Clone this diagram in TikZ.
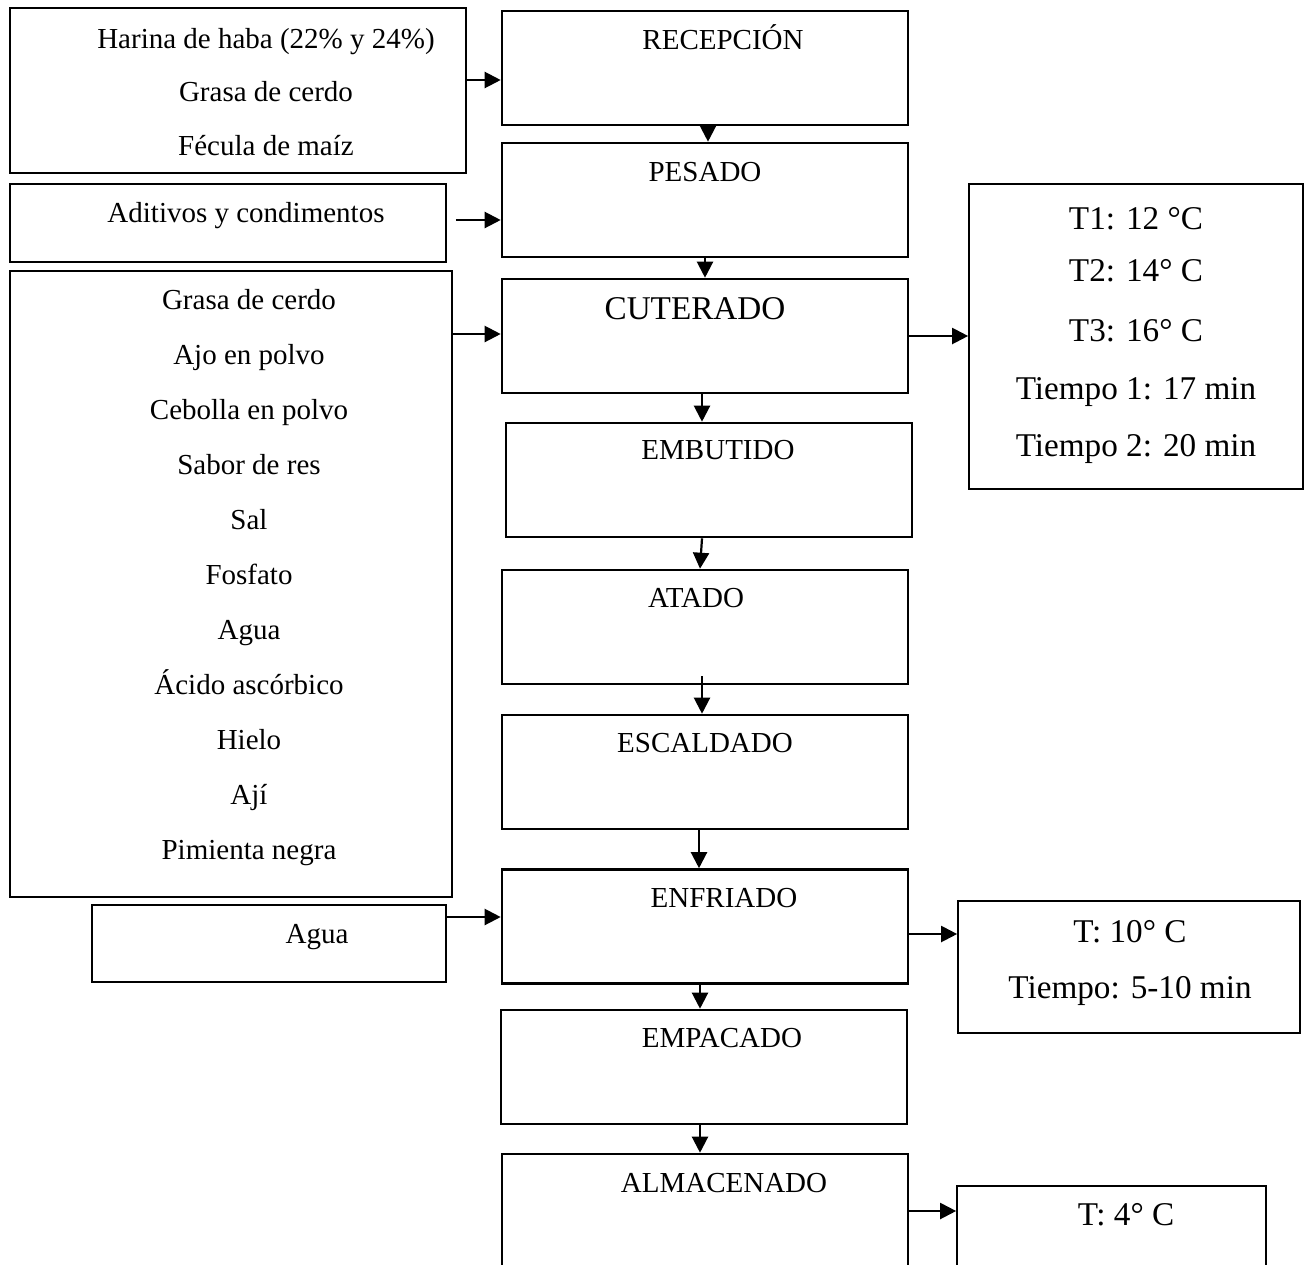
\documentclass[tikz,border=0pt]{standalone}
\usepackage{fontspec}
\setmainfont{Liberation Serif}
\usetikzlibrary{arrows.meta,positioning}

\tikzset{
  paso/.style={draw, line width=1.3pt, minimum width=203pt, minimum height=57pt, inner sep=0pt},
  caja/.style={draw, line width=0.85pt, inner sep=0pt},
  flecha/.style={line width=1.1pt, -{Triangle[length=8pt,width=8pt]}},
  txt/.style={font=\fontsize{14.5}{17}\selectfont, anchor=base, inner sep=0pt},
  txtg/.style={font=\fontsize{16.6}{20}\selectfont, anchor=base, inner sep=0pt}
}

\begin{document}
\begin{tikzpicture}[x=0.5pt, y=-0.5pt]
  \useasboundingbox (0,0) rectangle (1306,1264);
  \clip (0,0) rectangle (1306,1264);

  % Etapas del proceso
  \node[paso] (recep) at (705,68) {};
  \node[paso] (pesado) at (705,200) {};
  \node[paso] (cuter) at (705,336) {};
  \node[paso] (embut) at (709,480) {};
  \node[paso] (atado) at (705,627) {};
  \node[paso] (escal) at (705,772) {};
  \node[paso] (enfri) at (705,926.5) {};
  \node[paso] (empac) at (704,1067) {};
  \node[paso] (almac) at (705,1211) {};

  \foreach \n/\t/\dx/\dy in {recep/RECEPCIÓN/9/20, pesado/PESADO/0/20,
      embut/EMBUTIDO/4.5/19, atado/ATADO/-4.5/19.5, escal/ESCALDADO/0/19.5,
      enfri/ENFRIADO/9.5/19.5, empac/EMPACADO/9/19.5, almac/ALMACENADO/9.5/20} {
    \node[txt] (\n-t) at ([xshift=\dx pt, yshift=-\dy pt]\n.north) {\t};
  }
  \node[txtg] (cuter-t) at ([xshift=-5pt, yshift=-21pt]cuter.north) {CUTERADO};

  % Entradas
  \node[caja, minimum width=228pt, minimum height=82.5pt] (harina) at (238,90.5) {};
  \node[txt] (harina-1) at (266,48) {Harina de haba (22\% y 24\%)};
  \node[txt] (harina-2) at (266,101) {Grasa de cerdo};
  \node[txt] (harina-3) at (266,155) {Fécula de maíz};

  \node[caja, minimum width=218pt, minimum height=39pt] (aditivos) at (228,223) {};
  \node[txt] (aditivos-t) at (246,222) {Aditivos y condimentos};

  \node[caja, minimum width=221pt, minimum height=313pt] (ingred) at (231,584) {};
  \foreach \t [count=\i] in {Grasa de cerdo, Ajo en polvo, Cebolla en polvo,
      Sabor de res, Sal, Fosfato, Agua, Ácido ascórbico, Hielo, Ají, Pimienta negra} {
    \node[txt] (ingred-\i) at (249,{309+55*(\i-1)}) {\t};
  }

  \node[caja, minimum width=177pt, minimum height=38.5pt] (agua) at (269,943.5) {};
  \node[txt] (agua-t) at (317,943) {Agua};

  % Condiciones
  \node[caja, minimum width=167pt, minimum height=152.5pt] (tcut) at (1136,336.5) {};
  \foreach \t/\y [count=\i] in {T1: 12 °C/229, T2: 14° C/281, T3: 16° C/341,
      Tiempo 1: 17 min/399, Tiempo 2: 20 min/456} {
    \node[txtg] (tcut-\i) at (1136,\y) {\t};
  }

  \node[caja, minimum width=171pt, minimum height=66pt] (tenf) at (1129,967) {};
  \node[txtg] (tenf-1) at (1130,942) {T: 10° C};
  \node[txtg] (tenf-2) at (1130,998) {Tiempo: 5-10 min};

  \node[caja, minimum width=154.5pt, minimum height=47pt] (talm) at (1111.5,1233) {};
  \node[txtg] (talm-1) at (1126,1225) {T: 4° C};

  % Flechas de entrada
  \coordinate (e1) at ([yshift=-6pt]recep.west);
  \draw[flecha] (harina.east |- e1) -- (e1);
  \coordinate (s2) at ([xshift=4.5pt]aditivos.east);
  \coordinate (e2) at ([yshift=-10pt]pesado.west);
  \draw[flecha] (s2 |- e2) -- (e2);
  \coordinate (e3) at ([yshift=1pt]cuter.west);
  \draw[flecha] (ingred.east |- e3) -- (e3);
  \coordinate (e4) at ([yshift=4.75pt]enfri.west);
  \draw[flecha] (agua.east |- e4) -- (e4);

  % Flechas de salida
  \draw[flecha] (cuter.east) -- (tcut.west |- cuter.east);
  \coordinate (e5) at ([yshift=-3.75pt]enfri.east);
  \draw[flecha] (e5) -- (tenf.west |- e5);
  \draw[flecha] (almac.east) -- (talm.west |- almac.east);

  % Flujo principal
  \draw[flecha] ([xshift=1.5pt]recep.south) -- ([xshift=1.5pt]pesado.north);
  \draw[flecha] (pesado.south) -- (cuter.north);
  \draw[flecha] ([xshift=-1.5pt]cuter.south) -- ([xshift=-3.5pt]embut.north);
  \draw[flecha] ([xshift=-3.5pt]embut.south) -- ([xshift=-2.5pt]atado.north);
  \draw[flecha] ([xshift=-1.5pt,yshift=4.5pt]atado.south) -- ([xshift=-1.5pt]escal.north);
  \draw[flecha] ([xshift=-3pt]escal.south) -- ([xshift=-3pt]enfri.north);
  \draw[flecha] ([xshift=-2.5pt]enfri.south) -- ([xshift=-2pt]empac.north);
  \draw[flecha] ([xshift=-2pt]empac.south) -- ([xshift=-2.5pt]almac.north);
\end{tikzpicture}
\end{document}
